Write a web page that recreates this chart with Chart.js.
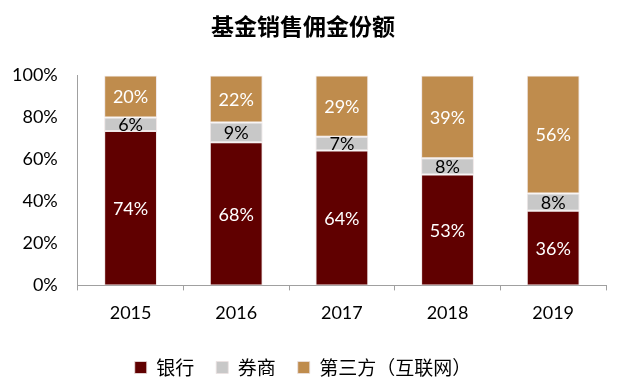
<!DOCTYPE html>
<html>
<head>
<meta charset="utf-8">
<script src="https://cdn.jsdelivr.net/npm/chart.js@4"></script>
<style>
  html, body { margin: 0; padding: 0; background: #fff; }
  #wrap { width: 619px; height: 388px; }
</style>
</head>
<body>
<div id="wrap"><canvas id="myChart"></canvas></div>
<script>
"use strict";

const years = ["2015", "2016", "2017", "2018", "2019"];
const bankShare = [73.6, 68.2, 64.3, 52.9, 35.6];
const brokerShare = [6.4, 9.4, 6.5, 7.7, 8.2];
const thirdShare = [20.0, 22.4, 29.2, 39.4, 56.2];
const yTicks = [0, 20, 40, 60, 80, 100];

const seriesNames = ["银行", "券商", "第三方（互联网）"];
const seriesColors = ["#600000", "#c8c8c8", "#bf8c4d"];
const labelColors = ["#ffffff", "#000000", "#ffffff"];

const latinFont = "Lato, 'Open Sans', sans-serif";
const cjkFont = "'Noto Sans CJK SC', sans-serif";

// draws the percent labels in the middle of each bar segment
const barLabels = {
  id: "barLabels",
  afterDatasetsDraw(chart) {
    const ctx = chart.ctx;
    ctx.save();
    ctx.font = "18px " + latinFont;
    ctx.textAlign = "center";
    ctx.textBaseline = "middle";
    chart.data.datasets.forEach((ds, i) => {
      let meta = chart.getDatasetMeta(i);
      meta.data.forEach((bar, j) => {
        ctx.fillStyle = labelColors[i];
        let midY = (bar.y + bar.base) / 2;
        ctx.fillText(Math.round(ds.data[j]) + "%", bar.x, midY + 1);
      });
    });
    ctx.restore();
  },
};

const datasets = [bankShare, brokerShare, thirdShare].map((vals, i) => ({
  label: seriesNames[i],
  data: vals,
  backgroundColor: seriesColors[i],
  borderColor: "rgba(235,225,225,0.8)",
  borderWidth: 1,
  borderSkipped: false,
  categoryPercentage: 1,
  barPercentage: 0.5,
}));

const ctx = document.getElementById("myChart").getContext("2d");
const myChart = new Chart(ctx, {
  type: "bar",
  data: { labels: years, datasets: datasets },
  plugins: [barLabels],
  options: {
    responsive: true,
    maintainAspectRatio: false,
    animation: false,
    layout: { padding: { left: 0, right: 13, top: 0, bottom: 1 } },
    plugins: {
      title: {
        display: true,
        text: "基金销售佣金份额",
        color: "#000",
        font: { family: cjkFont, size: 23, weight: "bold" },
        padding: { top: 12, bottom: 36 },
      },
      legend: {
        position: "bottom",
        labels: {
          color: "#000",
          boxWidth: 12,
          boxHeight: 12,
          padding: 22,
          font: { family: cjkFont, size: 19 },
        },
      },
      tooltip: { enabled: false },
    },
    scales: {
      x: {
        stacked: true,
        grid: {
          display: true,
          drawOnChartArea: false,
          tickLength: 5,
          color: "#a0a0a0",
        },
        border: { display: true, color: "#a0a0a0" },
        ticks: {
          color: "#000",
          padding: 12,
          font: { family: latinFont, size: 18 },
        },
      },
      y: {
        stacked: true,
        min: 0,
        max: 100,
        afterBuildTicks(axis) {
          axis.ticks = yTicks.map((v) => ({ value: v }));
        },
        grid: { display: false },
        border: { display: true, color: "#a0a0a0" },
        ticks: {
          color: "#000",
          padding: 12,
          font: { family: latinFont, size: 18 },
          callback: (v) => v + "%",
        },
      },
    },
  },
});
</script>
</body>
</html>
